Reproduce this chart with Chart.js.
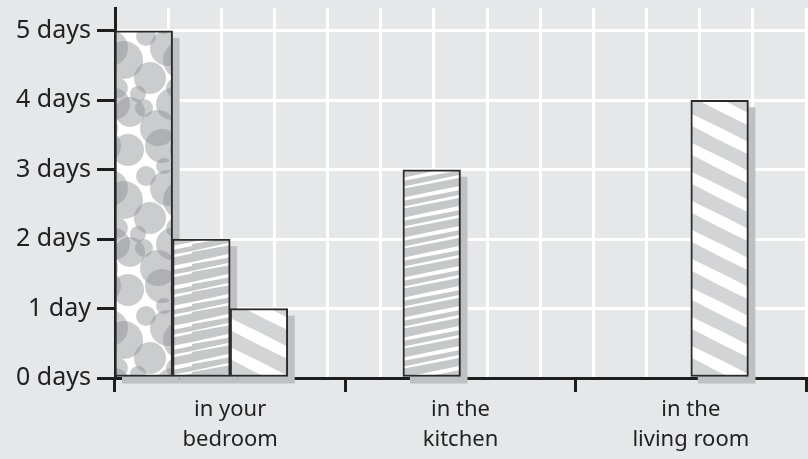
<!DOCTYPE html>
<html>
<head>
<meta charset="utf-8">
<script src="https://cdn.jsdelivr.net/npm/chart.js@4"></script>
<style>
  html, body { margin: 0; padding: 0; background: #e6e7e8; }
  #wrap { width: 808px; height: 459px; }
</style>
</head>
<body>
<div id="wrap"><canvas id="daysChart"></canvas></div>
<script>
// chart data
const categories = [['in your', 'bedroom'], ['in the', 'kitchen'], ['in the', 'living room']];
const dotsValues = [5, null, null];
const thinStripeValues = [2, 3, null];
const wideStripeValues = [1, null, 4];
const emptySlot = [null, null, null];
const dayLabels = ['0 days', '1 day', '2 days', '3 days', '4 days', '5 days'];

const FONT = '"Noto Sans", "Open Sans", sans-serif';

// fill patterns
function makeTile(w, h, draw) {
    const c = document.createElement('canvas');
    c.width = w; c.height = h;
    draw(c.getContext('2d'), w, h);
    return document.createElement('canvas').getContext('2d').createPattern(c, 'repeat');
}

const dotsPattern = makeTile(58, 140, function(g, w, h) {
    g.fillStyle = '#fff';
    g.fillRect(0, 0, w, h);
    g.fillStyle = 'rgba(140,141,146,0.45)';
    const circles = [[12, 10, 16], [46, 6, 17], [30, 36, 10], [52, 48, 18], [8, 60, 19], [34, 78, 16],
        [56, 104, 16], [14, 112, 15], [42, 128, 18], [22, 94, 8], [48, 26, 8], [28, 108, 9], [2, 88, 10]];
    circles.forEach(function(c) {
        for (let dx = -w; dx <= w; dx += w) {
            for (let dy = -h; dy <= h; dy += h) {
                g.beginPath();
                g.arc(c[0] + dx, c[1] + dy, c[2], 0, Math.PI * 2);
                g.fill();
            }
        }
    });
});

// bands: [offset, thickness at left, thickness at right]
function stripes(g, w, h, slope, period, bands, bg, fg) {
    g.fillStyle = bg;
    g.fillRect(0, 0, w, h);
    g.fillStyle = fg;
    for (let k = -4; k <= 4; k++) {
        bands.forEach(function(b) {
            const y0 = k * period + b[0];
            g.beginPath();
            g.moveTo(0, y0);
            g.quadraticCurveTo(w / 2, y0 + slope * w / 2 - 1, w, y0 + slope * w);
            g.lineTo(w, y0 + slope * w + b[2]);
            g.quadraticCurveTo(w / 2, y0 + slope * w / 2 + (b[1] + b[2]) / 2 + 1, 0, y0 + b[1]);
            g.closePath();
            g.fill();
        });
    }
}

const thinPattern = makeTile(96, 20, function(g, w, h) {
    stripes(g, w, h, -0.208, 20, [[2, 2, 4], [11, 1, 2.5]], '#c6c7c9', '#fff');
});
const widePattern = makeTile(58, 29, function(g, w, h) {
    stripes(g, w, h, 0.5, 29, [[0, 12, 12]], '#d3d4d6', '#fff');
});

// offset gray shadow behind each bar
const barShadow = {
    id: 'barShadow',
    beforeDatasetsDraw(chart) {
        const ctx = chart.ctx;
        ctx.save();
        ctx.fillStyle = '#bfc0c3';
        chart.data.datasets.forEach(function(ds, i) {
            chart.getDatasetMeta(i).data.forEach(function(bar, j) {
                if (ds.data[j] == null) return;
                const p = bar.getProps(['x', 'y', 'base', 'width'], true);
                ctx.fillRect(p.x - p.width / 2 + 7, p.y + 7, p.width, p.base - p.y);
            });
        });
        ctx.restore();
    }
};

const barStyle = { borderColor: '#2a2a2a', borderWidth: 2, borderSkipped: false, categoryPercentage: 1, barPercentage: 1 };

new Chart(document.getElementById('daysChart').getContext('2d'), {
    type: 'bar',
    data: {
        labels: categories,
        datasets: [
            Object.assign({ label: 'dots', data: dotsValues, backgroundColor: dotsPattern }, barStyle),
            Object.assign({ label: 'thin stripes', data: thinStripeValues, backgroundColor: thinPattern }, barStyle),
            Object.assign({ label: 'wide stripes', data: wideStripeValues, backgroundColor: widePattern }, barStyle),
            Object.assign({ label: '', data: emptySlot, backgroundColor: 'transparent' }, barStyle)
        ]
    },
    plugins: [barShadow],
    options: {
        responsive: true,
        maintainAspectRatio: false,
        animation: false,
        layout: { padding: { top: 8, right: 2, left: 0, bottom: 0 } },
        plugins: {
            legend: { display: false },
            tooltip: { enabled: false }
        },
        scales: {
            x: {
                z: 1,
                grid: { drawOnChartArea: false, color: '#1e1e1e', lineWidth: 3, tickLength: 14 },
                border: { color: '#1e1e1e', width: 3 },
                ticks: { color: '#222', padding: 3, font: { family: FONT, size: 22, lineHeight: 1.35 }, maxRotation: 0 },
                afterFit(scale) { scale.height = 81; }
            },
            grid12: {
                type: 'linear',
                position: 'top',
                min: 0,
                max: 12,
                ticks: { display: false, stepSize: 1 },
                grid: {
                    drawTicks: false,
                    lineWidth: 3,
                    color: ctx => ctx.tick && ctx.tick.value === 0 ? 'transparent' : '#ffffff'
                },
                border: { display: false },
                afterFit(scale) { scale.height = 0; }
            },
            y: {
                min: 0,
                max: 5.33,
                ticks: {
                    color: '#222',
                    padding: 6,
                    font: { family: FONT, size: 25 },
                    callback: v => dayLabels[v]
                },
                afterBuildTicks(scale) {
                    scale.ticks = dayLabels.map((label, i) => ({ value: i }));
                },
                grid: {
                    color: '#ffffff',
                    lineWidth: 3,
                    tickColor: '#1e1e1e',
                    tickWidth: 3,
                    tickLength: 18
                },
                border: { color: '#1e1e1e', width: 3 },
                afterFit(scale) {
                    scale.width = 115;
                    scale.paddingTop = 0;
                    scale.paddingBottom = 0;
                }
            }
        }
    }
});
</script>
</body>
</html>
